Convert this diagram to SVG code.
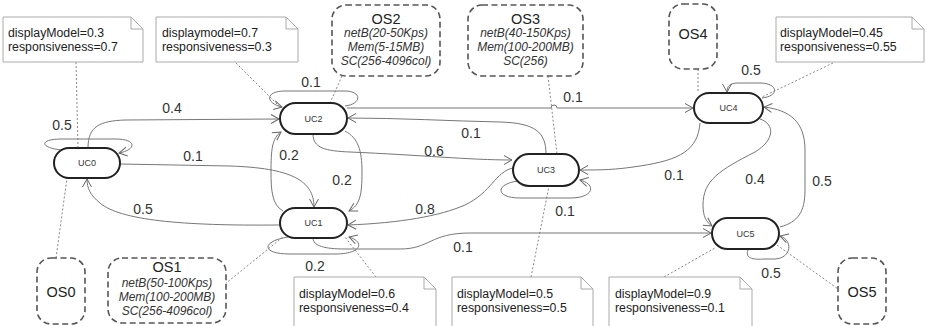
<svg xmlns="http://www.w3.org/2000/svg" width="927" height="326" viewBox="0 0 927 326">
  <defs>
    <marker id="arrow" markerUnits="userSpaceOnUse" markerWidth="12" markerHeight="12" viewBox="-10 -6 12 12" refX="0" refY="0" orient="auto">
      <path d="M-8,-4.5 L0,0 L-8,4.5" fill="none" stroke="#666" stroke-width="1"/>
    </marker>
    <style>
      text { font-family: "Liberation Sans", Arial, sans-serif; }
      .uc rect { fill: #fff; stroke: #222; stroke-width: 2; }
      .uc text { font-size: 9px; fill: #333; text-anchor: middle; }
      .os rect { fill: #fff; stroke: #555; stroke-width: 1.6; stroke-dasharray: 6 3.5; }
      .os .title { font-size: 14.5px; fill: #222; text-anchor: middle; }
      .os .prop { font-size: 12px; font-style: italic; fill: #333; text-anchor: middle; }
      .note path { fill: #fff; stroke: #aaa; stroke-width: 1; }
      .note text { font-size: 12.3px; fill: #222; }
      .edge { fill: none; stroke: #777; stroke-width: 1; marker-end: url(#arrow); }
      .link { fill: none; stroke: #888; stroke-width: 1; stroke-dasharray: 2 2; }
      .lbl { font-size: 14px; fill: #333; text-anchor: middle; }
    </style>
  </defs>

  <!-- attachment lines between notes / OS boxes and use cases -->
  <g id="links">
    <path class="link" d="M76,62 L78,148"/>
    <path class="link" d="M236,63 L279,106"/>
    <path class="link" d="M342,76 L330,103"/>
    <path class="link" d="M548,76 L557,154"/>
    <path class="link" d="M698,69 L698,93"/>
    <path class="link" d="M833,63 L762,97"/>
    <path class="link" d="M56,258 L67,178"/>
    <path class="link" d="M225,284 L283,237"/>
    <path class="link" d="M376,277 L345,237"/>
    <path class="link" d="M531,277 L549,186"/>
    <path class="link" d="M664,277 L715,248"/>
    <path class="link" d="M777,245 L838,289"/>
  </g>

  <!-- transition edges -->
  <g id="connectors">
    <!-- UC0 self loop -->
    <path class="edge" d="M62,150 C40,148 38,139 62,139 L115,139 C138,139 136,150 119,153"/>
    <!-- UC0 -> UC2 -->
    <path class="edge" d="M88,148 C88,126 100,121 125,120 L279,119"/>
    <!-- UC0 -> UC1 -->
    <path class="edge" d="M120,164 L230,166 C290,168 314,180 314,207"/>
    <!-- UC1 -> UC0 -->
    <path class="edge" d="M280,225 C180,226 120,220 100,203 C90,195 87,188 87,179"/>
    <!-- UC1 -> UC2 -->
    <path class="edge" d="M283,211 C272,205 271,190 271,172 C271,150 272,138 281,132"/>
    <!-- UC2 -> UC1 -->
    <path class="edge" d="M345,131 C358,138 362,150 362,172 C362,195 360,205 349,211"/>
    <!-- UC1 self loop -->
    <path class="edge" d="M288,237 C262,241 260,254 290,254 L335,254 C362,254 365,242 349,237"/>
    <!-- UC2 self loop -->
    <path class="edge" d="M345,106 C362,104 362,91 345,91 L285,91 C265,91 265,103 282,107"/>
    <!-- UC2 -> UC4 (hops over the OS3 link) -->
    <path class="edge" d="M347,108 L551,108 A3,3 0 0 1 557,108 L693,108"/>
    <!-- UC3 -> UC2 -->
    <path class="edge" d="M546,154 C546,132 535,123 500,122 C450,121 400,118 348,118"/>
    <!-- UC2 -> UC3 -->
    <path class="edge" d="M313,134 C313,148 325,151 350,152 C420,155 470,160 512,160"/>
    <!-- UC3 -> UC1 -->
    <path class="edge" d="M513,168 C495,172 492,192 465,205 C440,216 400,223 348,225"/>
    <!-- UC3 self loop -->
    <path class="edge" d="M518,181 C495,184 495,198 520,198 L570,198 C595,198 596,184 580,180"/>
    <!-- UC1 -> UC5 -->
    <path class="edge" d="M313,238 C313,246 325,249 345,249 L400,249 C430,249 430,233 470,233 L711,233"/>
    <!-- UC4 -> UC3 -->
    <path class="edge" d="M700,123 C698,150 680,160 640,166 C615,170 600,170 580,170"/>
    <!-- UC4 -> UC5 -->
    <path class="edge" d="M760,119 C775,124 775,140 755,152 C720,170 703,180 703,205 C703,216 706,222 712,226"/>
    <!-- UC5 -> UC4 -->
    <path class="edge" d="M780,227 C798,222 805,212 805,190 L805,150 C805,122 790,110 764,107"/>
    <!-- UC4 self loop -->
    <path class="edge" d="M762,98 C780,96 778,83 760,83 L738,83 C730,83 727,86 727,92"/>
    <!-- UC5 self loop -->
    <path class="edge" d="M748,250 C745,258 752,260 765,259 L775,259 C792,258 793,240 780,236"/>

    <!-- transition probabilities -->
    <text class="lbl" x="62" y="130">0.5</text>
    <text class="lbl" x="172" y="113">0.4</text>
    <text class="lbl" x="193" y="161">0.1</text>
    <text class="lbl" x="143" y="214">0.5</text>
    <text class="lbl" x="289" y="160">0.2</text>
    <text class="lbl" x="342" y="185">0.2</text>
    <text class="lbl" x="315" y="271">0.2</text>
    <text class="lbl" x="311" y="87">0.1</text>
    <text class="lbl" x="434" y="156">0.6</text>
    <text class="lbl" x="471" y="138">0.1</text>
    <text class="lbl" x="573" y="102">0.1</text>
    <text class="lbl" x="425" y="214">0.8</text>
    <text class="lbl" x="565" y="216">0.1</text>
    <text class="lbl" x="463" y="252">0.1</text>
    <text class="lbl" x="674" y="180">0.1</text>
    <text class="lbl" x="755" y="184">0.4</text>
    <text class="lbl" x="822" y="186">0.5</text>
    <text class="lbl" x="771" y="278">0.5</text>
    <text class="lbl" x="751" y="75">0.5</text>
  </g>

  <!-- use case states -->
  <g id="UC0" class="uc"><rect x="54" y="148" width="66" height="30" rx="15"/><text x="87" y="166">UC0</text></g>
  <g id="UC2" class="uc"><rect x="280" y="103" width="67" height="31" rx="15.5"/><text x="313.5" y="121.5">UC2</text></g>
  <g id="UC1" class="uc"><rect x="280" y="208" width="67" height="30" rx="15"/><text x="313.5" y="226">UC1</text></g>
  <g id="UC3" class="uc"><rect x="513" y="154" width="66" height="32" rx="16"/><text x="546" y="173">UC3</text></g>
  <g id="UC4" class="uc"><rect x="694" y="93" width="69" height="30" rx="15"/><text x="728.5" y="111">UC4</text></g>
  <g id="UC5" class="uc"><rect x="712" y="218" width="67" height="31" rx="15.5"/><text x="745.5" y="236.5">UC5</text></g>

  <!-- operating situations -->
  <g id="OS0" class="os"><rect x="37" y="258" width="48" height="66" rx="14"/><text class="title" x="61" y="297">OS0</text></g>
  <g id="OS1" class="os">
    <rect x="108" y="258" width="118" height="65" rx="14"/>
    <text class="title" x="167" y="272">OS1</text>
    <text class="prop" x="167" y="287">netB(50-100Kps)</text>
    <text class="prop" x="167" y="301">Mem(100-200MB)</text>
    <text class="prop" x="167" y="315">SC(256-4096col)</text>
  </g>
  <g id="OS2" class="os">
    <rect x="332" y="5" width="108" height="71" rx="14"/>
    <text class="title" x="386" y="24">OS2</text>
    <text class="prop" x="386" y="37">netB(20-50Kps)</text>
    <text class="prop" x="386" y="51">Mem(5-15MB)</text>
    <text class="prop" x="386" y="65">SC(256-4096col)</text>
  </g>
  <g id="OS3" class="os">
    <rect x="468" y="5" width="115" height="71" rx="14"/>
    <text class="title" x="525.5" y="24">OS3</text>
    <text class="prop" x="525.5" y="37">netB(40-150Kps)</text>
    <text class="prop" x="525.5" y="51">Mem(100-200MB)</text>
    <text class="prop" x="525.5" y="65">SC(256)</text>
  </g>
  <g id="OS4" class="os"><rect x="669" y="4" width="48" height="65" rx="14"/><text class="title" x="693" y="39">OS4</text></g>
  <g id="OS5" class="os"><rect x="838" y="258" width="48" height="66" rx="14"/><text class="title" x="862" y="297">OS5</text></g>

  <!-- quality attribute notes -->
  <g id="note-UC0" class="note">
    <path d="M3,17 L131,17 L143,29 L143,62 L3,62 Z M131,17 L131,29 L143,29"/>
    <text x="8" y="36.5">displayModel=0.3</text>
    <text x="8" y="51">responsiveness=0.7</text>
  </g>
  <g id="note-UC2" class="note">
    <path d="M156,17 L286,17 L298,29 L298,62 L156,62 Z M286,17 L286,29 L298,29"/>
    <text x="162" y="36.5">displaymodel=0.7</text>
    <text x="162" y="51">responsiveness=0.3</text>
  </g>
  <g id="note-UC4" class="note">
    <path d="M776,17 L912,17 L924,29 L924,62 L776,62 Z M912,17 L912,29 L924,29"/>
    <text x="780" y="36.5">displayModel=0.45</text>
    <text x="780" y="51">responsiveness=0.55</text>
  </g>
  <g id="note-UC1" class="note">
    <path d="M294,277 L424,277 L436,289 L436,330 L294,330 Z M424,277 L424,289 L436,289"/>
    <text x="299" y="297.5">displayModel=0.6</text>
    <text x="299" y="311.5">responsiveness=0.4</text>
  </g>
  <g id="note-UC3" class="note">
    <path d="M452,277 L581,277 L593,289 L593,330 L452,330 Z M581,277 L581,289 L593,289"/>
    <text x="457" y="297.5">displayModel=0.5</text>
    <text x="457" y="311.5">responsiveness=0.5</text>
  </g>
  <g id="note-UC5" class="note">
    <path d="M609,277 L740,277 L752,289 L752,330 L609,330 Z M740,277 L740,289 L752,289"/>
    <text x="615" y="297.5">displayModel=0.9</text>
    <text x="615" y="311.5">responsiveness=0.1</text>
  </g>
</svg>
